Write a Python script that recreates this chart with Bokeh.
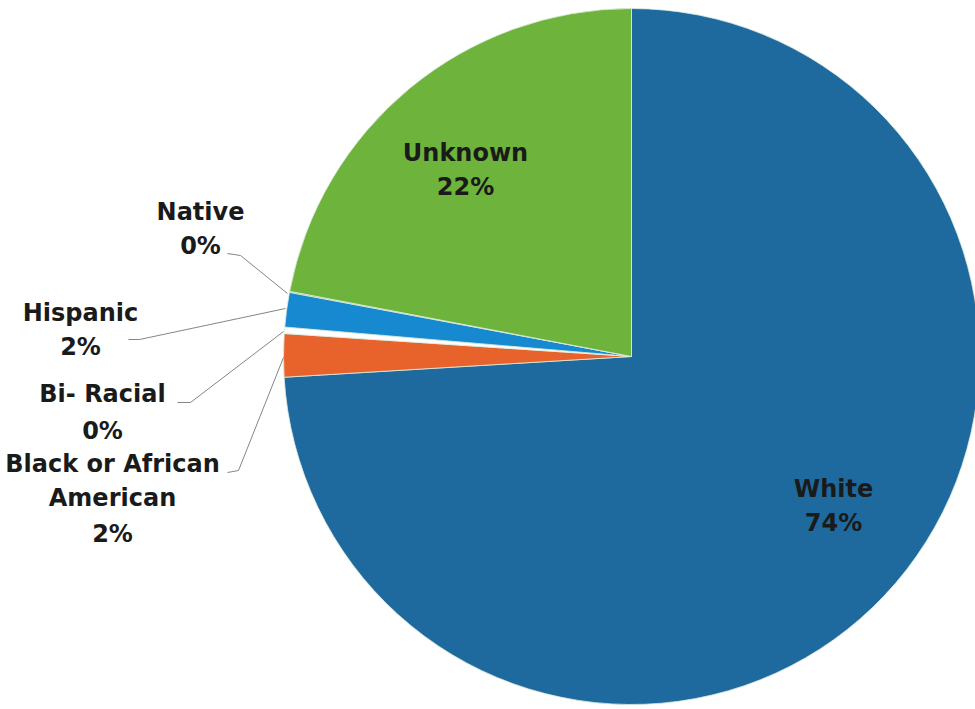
import math
from bokeh.plotting import figure
from bokeh.models import ColumnDataSource, Range1d
from bokeh.core.properties import value
from bokeh.embed import file_html
from bokeh.resources import INLINE

# ---- data ----
categories = ["White", "Black or African American", "Bi- Racial", "Hispanic", "Native", "Unknown"]
shares = [74.05, 2.0, 0.3, 1.6, 0.05, 22.0]          # percent of total
shown_pct = ["74%", "2%", "0%", "2%", "0%", "22%"]   # labels printed on chart
colors = ["#1E6A9F", "#E8622C", "#FFFFFF", "#1789D0", "#5FA83A", "#6DB33C"]

W, H = 975, 709
p = figure(width=W, height=H, output_backend="svg", toolbar_location=None,
           x_range=Range1d(0, W), y_range=Range1d(0, H), min_border=0)
p.axis.visible = False
p.grid.visible = False
p.outline_line_color = None
p.background_fill_color = "white"
p.border_fill_color = "white"

cx, cy, r = 631, H - 356, 348
total = sum(shares)
starts, ends = [], []
cum = 0.0
for s in shares:
    a0 = math.pi / 2 - 2 * math.pi * cum / total
    cum += s
    a1 = math.pi / 2 - 2 * math.pi * cum / total
    starts.append(a1)
    ends.append(a0)

src = ColumnDataSource(dict(start=starts, end=ends, color=colors, cat=categories))
p.wedge(x=cx, y=cy, radius=r, start_angle="start", end_angle="end",
        direction="anticlock", fill_color="color", line_color="#DDEEDD",
        line_width=0.8, source=src)

# ---- labels (pixel layout: y measured from top) ----
label_lines = {
    "Unknown": ([categories[5], shown_pct[5]], 465, [152, 186]),
    "White": ([categories[0], shown_pct[0]], 833, [488, 522]),
    "Native": ([categories[4], shown_pct[4]], 200, [211, 245]),
    "Hispanic": ([categories[3], shown_pct[3]], 80, [312, 346]),
    "Bi": ([categories[2], shown_pct[2]], 102, [393, 430]),
    "Black": (["Black or African", "American", shown_pct[1]], 112, [463, 497, 533]),
}
tx, ty, tt = [], [], []
for lines, x, ys in label_lines.values():
    for t, y in zip(lines, ys):
        tx.append(x)
        ty.append(H - y)
        tt.append(t)
p.text(x=tx, y=ty, text=tt, text_font=value("DejaVu Sans"), text_font_style="bold",
       text_font_size="24px", text_align="center", text_baseline="middle",
       text_color="#1A1A1A")

# leader lines
leaders = [
    [(227, 253), (240, 255), (287, 293)],
    [(128, 339), (139, 339), (285, 308)],
    [(177, 402), (190, 402), (283, 331)],
    [(227, 472), (238, 470), (283, 357)],
]
p.multi_line(xs=[[pt[0] for pt in l] for l in leaders],
             ys=[[H - pt[1] for pt in l] for l in leaders],
             line_color="#858585", line_width=1)

open("out.html", "w").write(file_html(p, INLINE))
